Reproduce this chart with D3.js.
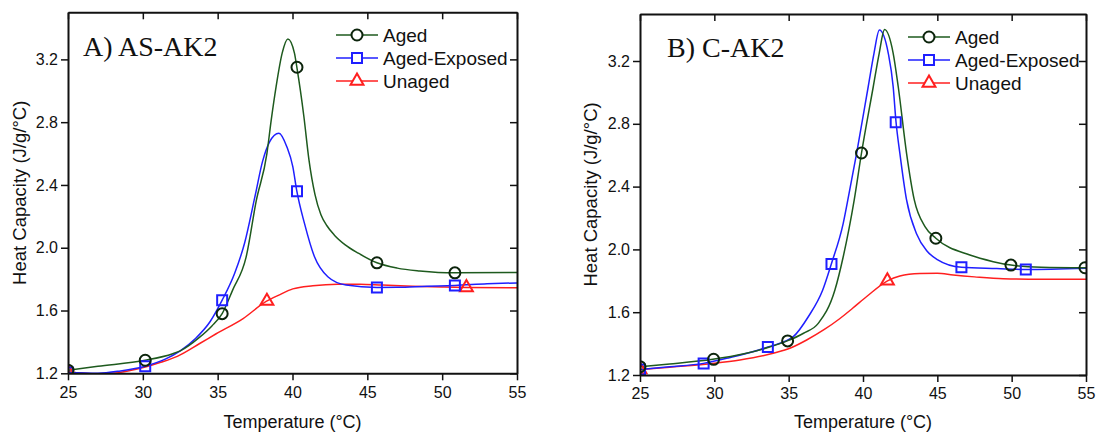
<!DOCTYPE html>
<meta charset="utf-8">
<title>Heat capacity - AS-AK2 / C-AK2</title>
<style>
body { margin: 0; background: #fff; }
svg { display: block; font-family: "Liberation Sans", Arial, sans-serif; }
.legend text { font-size: 19px; fill: #111; }
</style>
<script src="https://d3js.org/d3.v7.min.js"></script>
<body>
<script>
var width = 1097, height = 434;

// axis ticks (shared by both panels)
var xTicks = [25, 30, 35, 40, 45, 50, 55];
var yTicks = [1.2, 1.6, 2.0, 2.4, 2.8, 3.2];
var seriesNames = ["Aged", "Aged-Exposed", "Unaged"];

// A) AS-AK2 : [temperature, heat capacity]
var agedA = [[25,1.22],[27,1.245],[30.16,1.283],[32,1.325],[32.5,1.343],[33.8,1.43],[34.6,1.5],[35.3,1.58],
  [36.0,1.73],[36.9,1.94],[37.58,2.30],[38.29,2.60],[38.58,2.815],[38.91,3.03],[39.31,3.24],[39.69,3.33],
  [40.13,3.24],[40.29,3.15],[40.76,2.836],[41.1,2.56],[41.5,2.34],[41.9,2.21],[42.3,2.14],[42.8,2.08],
  [43.5,2.02],[44.4,1.965],[45.64,1.904],[47,1.87],[48.5,1.852],[50.85,1.84],[55,1.842]];
var exposedA = [[25,1.205],[27,1.20],[28.5,1.215],[30.16,1.245],[31.5,1.29],[32.5,1.343],[33.5,1.42],[34.5,1.53],
  [35.3,1.666],[36.13,1.836],[36.8,2.03],[37.5,2.33],[38.0,2.55],[38.47,2.675],[39.09,2.73],[39.62,2.644],
  [40.02,2.517],[40.29,2.36],[40.8,2.155],[41.47,1.942],[42.36,1.815],[43.58,1.762],[45.64,1.747],[47,1.748],
  [49,1.755],[50.85,1.76],[53,1.77],[55,1.776]];
var unagedA = [[25,1.212],[26,1.2],[27,1.196],[28,1.2],[29,1.215],[30.16,1.24],[31.2,1.27],[32.3,1.308],[33.8,1.39],
  [34.9,1.452],[36.7,1.549],[38.24,1.658],[39.13,1.70],[40.02,1.738],[41.36,1.758],[43,1.768],[44.5,1.768],
  [46,1.762],[48,1.755],[50,1.75],[51.62,1.747],[55,1.745]];
var agedMarksA = [[25,1.22],[30.16,1.283],[35.3,1.58],[40.3,3.15],[45.64,1.904],[50.85,1.84]];
var exposedMarksA = [[25,1.205],[30.16,1.245],[35.3,1.666],[40.3,2.36],[45.64,1.747],[50.85,1.76]];
var unagedMarksA = [[25,1.212],[38.29,1.66],[51.62,1.747]];

// B) C-AK2
var agedB = [[25,1.253],[27,1.27],[29.9,1.30],[32,1.335],[33.6,1.375],[34.9,1.417],[36.0,1.466],[36.99,1.529],
  [38.11,1.741],[38.67,1.953],[39.41,2.315],[39.9,2.614],[40.69,3.036],[41.09,3.249],[41.45,3.40],[42.03,3.249],
  [42.37,3.036],[42.93,2.612],[43.45,2.315],[44.17,2.145],[44.9,2.071],[47.19,1.964],[48.76,1.922],[49.95,1.90],
  [52,1.886],[55,1.883]];
var exposedB = [[25,1.235],[27,1.252],[29.26,1.274],[31,1.31],[33.6,1.378],[35.31,1.444],[36.32,1.571],[37.29,1.741],
  [37.87,1.907],[38.67,2.166],[39.05,2.35],[39.57,2.612],[40.35,3.036],[40.74,3.249],[41.1,3.397],[41.7,3.249],
  [42.03,3.036],[42.22,2.813],[42.48,2.612],[42.93,2.315],[43.6,2.10],[44.3,1.99],[45,1.935],[46.63,1.886],
  [49,1.878],[50.97,1.872],[55,1.88]];
var unagedB = [[25,1.235],[27,1.25],[30,1.275],[31.72,1.296],[33.96,1.338],[35.2,1.375],[36.21,1.423],[37.4,1.49],
  [38.45,1.56],[39.3,1.625],[40.25,1.70],[41.65,1.80],[42.48,1.83],[43.83,1.846],[45,1.848],[46.07,1.837],[47.5,1.825],
  [49.43,1.813],[52,1.81],[55,1.81]];
var agedMarksB = [[25,1.253],[29.95,1.30],[34.93,1.417],[39.9,2.614],[44.9,2.071],[49.95,1.90],[54.93,1.883]];
var exposedMarksB = [[25,1.235],[29.28,1.274],[33.6,1.378],[37.88,1.907],[42.2,2.81],[46.62,1.886],[50.95,1.872]];
var unagedMarksB = [[25,1.235],[41.64,1.80]];

var lineColors = ["#1e5a1e", "#1f1fff", "#ff1f1f"];
var markColors = ["#0c240c", "#1f1fff", "#ff1f1f"];
var symbols = [d3.symbolCircle, d3.symbolSquare, d3.symbolTriangle];
var symbolSizes = [95, 100, 72];

var panels = [
  { id: "a", title: "A) AS-AK2", left: 68, right: 517, top: 12.3, bottom: 373.3,
    titleX: 83, titleY: 56, legendX: 336, legendY: 35, legendGap: 23, ylabelX: 26,
    lines: [agedA, exposedA, unagedA], marks: [agedMarksA, exposedMarksA, unagedMarksA] },
  { id: "b", title: "B) C-AK2", left: 640, right: 1086, top: 13.9, bottom: 375,
    titleX: 667, titleY: 57, legendX: 908, legendY: 37, legendGap: 23, ylabelX: 597,
    lines: [agedB, exposedB, unagedB], marks: [agedMarksB, exposedMarksB, unagedMarksB] }
];

var svg = d3.select("body").append("svg")
    .attr("width", width)
    .attr("height", height);

panels.forEach(function(p) {
  var x = d3.scaleLinear().domain([25, 55]).range([p.left, p.right]);
  var y = d3.scaleLinear().domain([1.2, 3.5]).range([p.bottom, p.top]);
  var g = svg.append("g");

  g.append("clipPath").attr("id", "clip-" + p.id)
    .append("rect")
      .attr("x", p.left).attr("y", p.top)
      .attr("width", p.right - p.left).attr("height", p.bottom - p.top);

  var plot = g.append("g").attr("clip-path", "url(#clip-" + p.id + ")");
  var line = d3.line()
      .x(function(d) { return x(d[0]); })
      .y(function(d) { return y(d[1]); })
      .curve(d3.curveMonotoneX);

  // draw unaged first so aged ends up on top
  [2, 1, 0].forEach(function(i) {
    plot.append("path")
        .datum(p.lines[i])
        .attr("d", line)
        .attr("fill", "none")
        .attr("stroke", lineColors[i])
        .attr("stroke-width", 1.5);
  });
  [2, 1, 0].forEach(function(i) {
    plot.selectAll("path.m" + i)
        .data(p.marks[i])
      .enter().append("path")
        .attr("class", "m" + i)
        .attr("transform", function(d) { return "translate(" + x(d[0]) + "," + y(d[1]) + ")"; })
        .attr("d", d3.symbol().type(symbols[i]).size(symbolSizes[i]))
        .attr("fill", "none")
        .attr("stroke", markColors[i])
        .attr("stroke-width", 2);
  });

  // axes: left/bottom ticks out, top/right mirrored inside
  var ax = function(a) {
    a.select(".domain").attr("stroke", "#111").attr("stroke-width", 2);
    a.selectAll(".tick line").attr("stroke", "#111").attr("stroke-width", 1.5);
  };
  g.append("g").attr("transform", "translate(0," + p.bottom + ")")
    .call(d3.axisBottom(x).tickValues(xTicks).tickSizeInner(7).tickSizeOuter(0).tickPadding(6))
    .call(ax);
  g.append("g").attr("transform", "translate(0," + p.top + ")")
    .call(d3.axisTop(x).tickValues(xTicks).tickSizeInner(-7).tickSizeOuter(0).tickFormat(""))
    .call(ax);
  g.append("g").attr("transform", "translate(" + p.left + ",0)")
    .call(d3.axisLeft(y).tickValues(yTicks).tickSizeInner(7).tickSizeOuter(0).tickPadding(3).tickFormat(d3.format(".1f")))
    .call(ax);
  g.append("g").attr("transform", "translate(" + p.right + ",0)")
    .call(d3.axisRight(y).tickValues(yTicks).tickSizeInner(-7).tickSizeOuter(0).tickFormat(""))
    .call(ax);
  g.selectAll(".tick text").style("font-size", "16px").attr("fill", "#111").attr("font-family", null);

  g.append("text")
      .attr("x", (p.left + p.right) / 2).attr("y", 428)
      .attr("text-anchor", "middle")
      .style("font-size", "18px").attr("fill", "#111")
      .text("Temperature (°C)");
  g.append("text")
      .attr("transform", "translate(" + p.ylabelX + "," + ((p.top + p.bottom) / 2) + ") rotate(-90)")
      .attr("text-anchor", "middle")
      .style("font-size", "18.5px").attr("fill", "#111")
      .text("Heat Capacity (J/g/°C)");

  g.append("text")
      .attr("x", p.titleX).attr("y", p.titleY)
      .style("font-family", "'Liberation Serif', 'Times New Roman', serif")
      .style("font-size", "28px").attr("fill", "#111")
      .text(p.title);

  var legend = g.append("g").attr("class", "legend");
  seriesNames.forEach(function(name, i) {
    var ly = p.legendY + i * p.legendGap;
    legend.append("line")
        .attr("x1", p.legendX).attr("x2", p.legendX + 42)
        .attr("y1", ly).attr("y2", ly)
        .attr("stroke", lineColors[i]).attr("stroke-width", 1.5);
    legend.append("path")
        .attr("transform", "translate(" + (p.legendX + 21) + "," + ly + ")")
        .attr("d", d3.symbol().type(symbols[i]).size(symbolSizes[i]))
        .attr("fill", "#fff")
        .attr("stroke", markColors[i]).attr("stroke-width", 2);
    legend.append("text")
        .attr("x", p.legendX + 47).attr("y", ly + 7)
        .text(name);
  });
});
</script>
